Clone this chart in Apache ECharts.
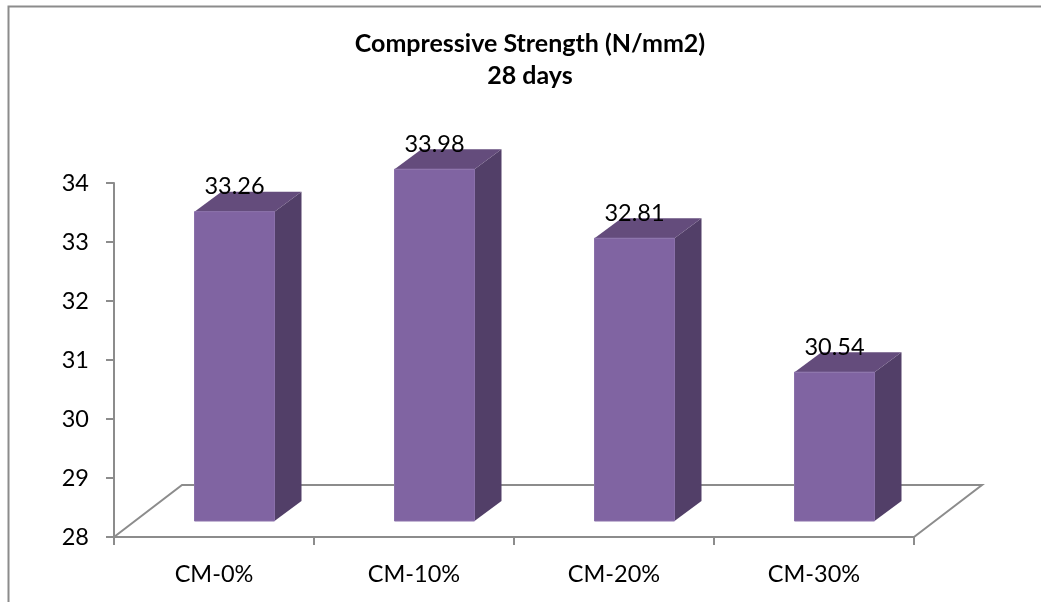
<!DOCTYPE html>
<html>
<head>
<meta charset="utf-8">
<script src="https://cdn.jsdelivr.net/npm/echarts@6/dist/echarts.min.js"></script>
<style>
html, body { margin: 0; padding: 0; background: #fff; }
#chart { width: 1041px; height: 602px; }
</style>
</head>
<body>
<div id="chart"></div>
<script>
const categories = ['CM-0%', 'CM-10%', 'CM-20%', 'CM-30%'];
const strengths = [33.26, 33.98, 32.81, 30.54];
const titleText = 'Compressive Strength (N/mm2)\n28 days';

// fake 3d look, in pixels
const barWidth = 80;
const depthX = 27;
const depthY = 20;
const floorX = 68;
const floorY = 52;
const liftX = 20.5;
const liftY = 16;

const gray = '#8c8c8c';
const font = 'Lato, Carlito, sans-serif';

function renderBar(params, api) {
  const p = api.coord([api.value(0), api.value(1)]);
  const base = api.coord([api.value(0), 28]);
  const x0 = p[0] + liftX - barWidth / 2;
  const x1 = x0 + barWidth;
  const top = p[1] - liftY + 1;
  const bottom = base[1] - liftY;
  return {
    type: 'group',
    children: [
      {
        type: 'polygon',
        shape: { points: [[x1, top], [x1 + depthX, top - depthY], [x1 + depthX, bottom - depthY], [x1, bottom]] },
        style: { fill: '#523f68' }
      },
      {
        type: 'polygon',
        shape: { points: [[x0, top], [x0 + depthX, top - depthY], [x1 + depthX, top - depthY], [x1, top]] },
        style: { fill: '#644c7c' }
      },
      {
        type: 'rect',
        shape: { x: x0, y: top, width: barWidth, height: bottom - top },
        style: { fill: '#8064a2', stroke: '#8a70aa', lineWidth: 1 }
      },
      {
        type: 'text',
        z2: 10,
        style: {
          text: api.value(1).toFixed(2),
          x: (x0 + x1) / 2,
          y: top - 25,
          align: 'center',
          verticalAlign: 'middle',
          fill: '#000',
          font: '23.5px ' + font
        }
      }
    ]
  };
}

function renderFloor(params) {
  const c = params.coordSys;
  const b = c.y + c.height;
  return {
    type: 'polyline',
    shape: {
      points: [
        [c.x, b],
        [c.x + floorX, b - floorY],
        [c.x + c.width + floorX, b - floorY],
        [c.x + c.width, b]
      ]
    },
    style: { fill: null, stroke: gray, lineWidth: 2 }
  };
}

const chart = echarts.init(document.getElementById('chart'), null, { renderer: 'canvas' });
chart.setOption({
  animation: false,
  backgroundColor: '#fff',
  title: {
    text: titleText,
    left: 530,
    top: 28,
    padding: 0,
    textAlign: 'center',
    textStyle: { fontFamily: font, fontSize: 25, fontWeight: 'bold', color: '#000', lineHeight: 32 }
  },
  grid: { left: 114, top: 183, width: 800, height: 354 },
  xAxis: {
    type: 'category',
    data: categories,
    axisLine: { lineStyle: { color: gray, width: 2 } },
    axisTick: { show: true, length: 8, alignWithLabel: false, lineStyle: { color: gray, width: 2 } },
    axisLabel: { color: '#000', fontFamily: font, fontSize: 23.5, margin: 25 }
  },
  yAxis: {
    type: 'value',
    min: 28,
    max: 34,
    interval: 1,
    splitLine: { show: false },
    axisLine: { show: true, lineStyle: { color: gray, width: 2 } },
    axisTick: { show: true, length: 8, lineStyle: { color: gray, width: 2 } },
    axisLabel: { color: '#000', fontFamily: font, fontSize: 23.5, margin: 25, padding: [8, 0, 0, 0] }
  },
  graphic: [{
    type: 'polyline',
    silent: true,
    shape: { points: [[8.5, 602], [8.5, 6.5], [1041, 6.5]] },
    style: { fill: null, stroke: gray, lineWidth: 2 }
  }],
  series: [
    {
      type: 'custom',
      coordinateSystem: 'cartesian2d',
      renderItem: renderFloor,
      data: [[0, 28]],
      z: 1,
      silent: true
    },
    {
      type: 'custom',
      coordinateSystem: 'cartesian2d',
      renderItem: renderBar,
      data: categories.map((c, i) => [i, strengths[i]]),
      encode: { x: 0, y: 1 },
      z: 3
    }
  ]
});
</script>
</body>
</html>
